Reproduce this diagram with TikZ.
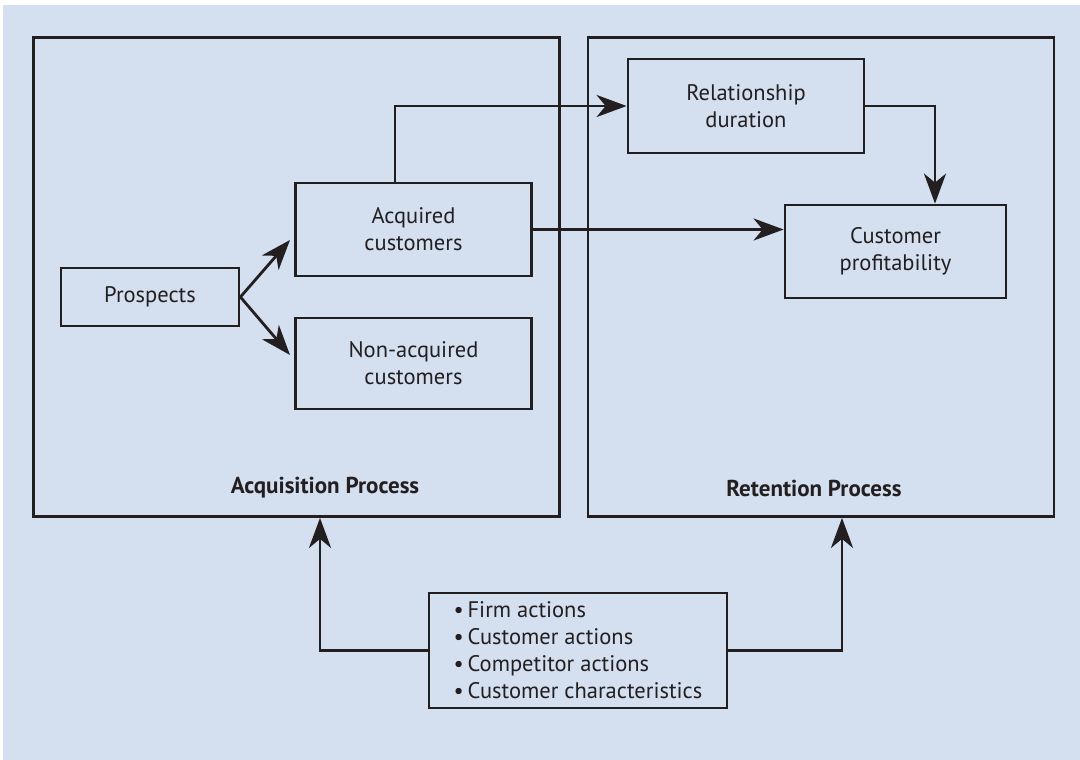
\documentclass[tikz,border=0pt]{standalone}
\usepackage{fontspec}
\setmainfont{PT Sans}
\usetikzlibrary{arrows.meta}
\definecolor{bgblue}{RGB}{212,223,240}
\definecolor{ink}{RGB}{35,31,32}
\begin{document}
\begin{tikzpicture}[x=1pt,y=-1pt,
  box/.style={draw=ink,line width=2.8pt,fill=bgblue,inner sep=0pt,align=center,font=\fontsize{22.5}{27}\selectfont,text=ink},
  big/.style={draw=ink,line width=2.8pt,inner sep=0pt},
  lbl/.style={font=\fontsize{23}{27}\selectfont\bfseries,text=ink},
  conn/.style={draw=ink,line width=2.8pt,-{Stealth[length=30pt,width=22pt,inset=9pt]}}]
\useasboundingbox (0,0) rectangle (1080,760);
\fill[bgblue] (3,5) rectangle (1080,760);
% big boxes
\node[big,minimum width=526pt,minimum height=479pt] (acq) at (296.5,277) {};
\node[big,minimum width=466pt,minimum height=479pt] (ret) at (821,277) {};
\node[lbl] (acqlbl) at (325,488) {Acquisition Process};
\node[lbl] (retlbl) at (814,488) {Retention Process};
% inner boxes
\node[box,minimum width=236pt,minimum height=94pt] (rel) at (746,106) {Relationship\\duration};
\node[box,minimum width=221pt,minimum height=93pt] (prof) at (895.5,251.5) {Customer\\profitability};
\node[box,minimum width=236pt,minimum height=93pt] (acqc) at (413.5,229.5) {Acquired\\customers};
\node[box,minimum width=178pt,minimum height=58pt] (pros) at (150,297) {Prospects};
\node[box,minimum width=236pt,minimum height=91pt] (nonacq) at (413.5,363.5) {Non-acquired\\customers};
\node[box,minimum width=298pt,minimum height=115pt,align=left] (fact) at (578,650.5) {%
\textbullet\,Firm actions\\
\textbullet\,Customer actions\\
\textbullet\,Competitor actions\\
\textbullet\,Customer characteristics};
% connectors
\coordinate (c1) at (395,0);
\coordinate (c2) at (935,0);
\draw[conn] (acqc.north -| c1) |- (rel.west);
\draw[conn] (rel.east) -| (prof.north -| c2);
\draw[conn] (acqc.east) -- (prof.west |- acqc.east);
\coordinate (pt1) at (290,240);
\coordinate (pt2) at (290,355);
\draw[conn] (pros.east) -- (pt1);
\draw[conn] (pros.east) -- (pt2);
\coordinate (lx) at (320,0);
\coordinate (rx) at (842,0);
\draw[conn] (fact.west) -| (acq.south -| lx);
\draw[conn] (fact.east) -| (ret.south -| rx);
\end{tikzpicture}
\end{document}
